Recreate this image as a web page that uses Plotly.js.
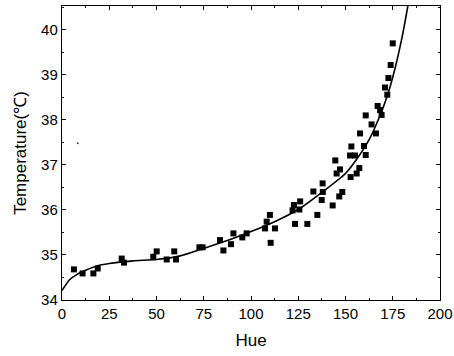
<!DOCTYPE html>
<html><head><meta charset="utf-8">
<script src="https://cdn.plot.ly/plotly-3.0.1.min.js"></script>
<style>body{margin:0;background:#fff}#c{width:454px;height:356px}</style>
</head><body><div id="c"></div>
<script>
const hue = [6.3,10.9,16.6,18.9,31.6,32.8,48.3,50.1,55.4,59.4,60.3,72.7,74.4,83.6,85.4,89.4,90.7,95.4,97.7,107.4,108.3,110,110.4,112.7,122,122.7,123.3,126,125.6,129.8,133,135.1,137.4,137.9,138,143.2,144.6,145.3,146.7,147.1,148.3,152.7,153.1,152.4,155,155.9,157.3,157.7,159.8,160.7,160.7,163.8,166.1,167,168.3,169.1,170.9,172.1,172.7,173.9,175];
const temp = [34.68,34.59,34.59,34.70,34.92,34.83,34.96,35.08,34.90,35.08,34.90,35.17,35.17,35.33,35.10,35.24,35.48,35.39,35.48,35.59,35.74,35.89,35.27,35.59,35.99,36.11,35.69,36.19,36.01,35.69,36.41,35.89,36.22,36.59,36.40,36.10,37.10,36.81,36.30,36.90,36.40,36.73,37.41,37.21,37.21,36.81,36.93,37.70,37.42,38.10,37.22,37.90,37.70,38.31,38.22,38.11,38.72,38.56,38.93,39.22,39.70];
const fitHue = [0,4,8,12.5,18,25,37.5,50,62.5,75,87.5,100,112.5,125,137.5,150,156,162.5,168,172,176,180,183];
const fitTemp = [34.21,34.45,34.57,34.66,34.75,34.81,34.87,34.90,34.98,35.15,35.32,35.52,35.74,36.01,36.39,36.81,37.13,37.56,38.07,38.52,39.11,39.85,40.53];
const speckHue = [8.3];
const speckTemp = [37.48];

const font = 'Arial, "Liberation Sans", sans-serif';
const data = [
  {x: fitHue, y: fitTemp, mode: 'lines', line: {color: '#000', width: 1.6, shape: 'spline', smoothing: 0.6}, hoverinfo: 'skip'},
  {x: hue, y: temp, mode: 'markers', marker: {symbol: 'square', size: 6, color: '#000'}},
  {x: speckHue, y: speckTemp, mode: 'markers', marker: {symbol: 'circle', size: 2, color: '#444'}}
];
const axisCommon = {
  showgrid: false, zeroline: false, showline: true, linecolor: '#000', linewidth: 1.2,
  mirror: 'ticks', ticks: 'inside', ticklen: 4, tickwidth: 1, tickcolor: '#000',
  tickfont: {family: font, size: 15, color: '#000'}
};
const layout = {
  width: 454, height: 356,
  margin: {l: 62, r: 14, t: 6, b: 56},
  paper_bgcolor: '#fff', plot_bgcolor: '#fff',
  showlegend: false,
  xaxis: Object.assign({}, axisCommon, {
    range: [0, 200], tickvals: [0,25,50,75,100,125,150,175,200],
    minor: {dtick: 12.5, tick0: 0, ticks: 'inside', ticklen: 2, tickcolor: '#000'},
    title: {text: 'Hue', font: {family: font, size: 17, color: '#000'}, standoff: 12}
  }),
  yaxis: Object.assign({}, axisCommon, {
    range: [34, 40.53], tickvals: [34,35,36,37,38,39,40],
    minor: {dtick: 0.5, tick0: 34, ticks: 'inside', ticklen: 2, tickcolor: '#000'},
    title: {text: 'Temperature(℃)', font: {family: font, size: 17, color: '#000'}, standoff: 10}
  })
};
Plotly.newPlot('c', data, layout, {displayModeBar: false, staticPlot: true});
</script>
</body></html>
